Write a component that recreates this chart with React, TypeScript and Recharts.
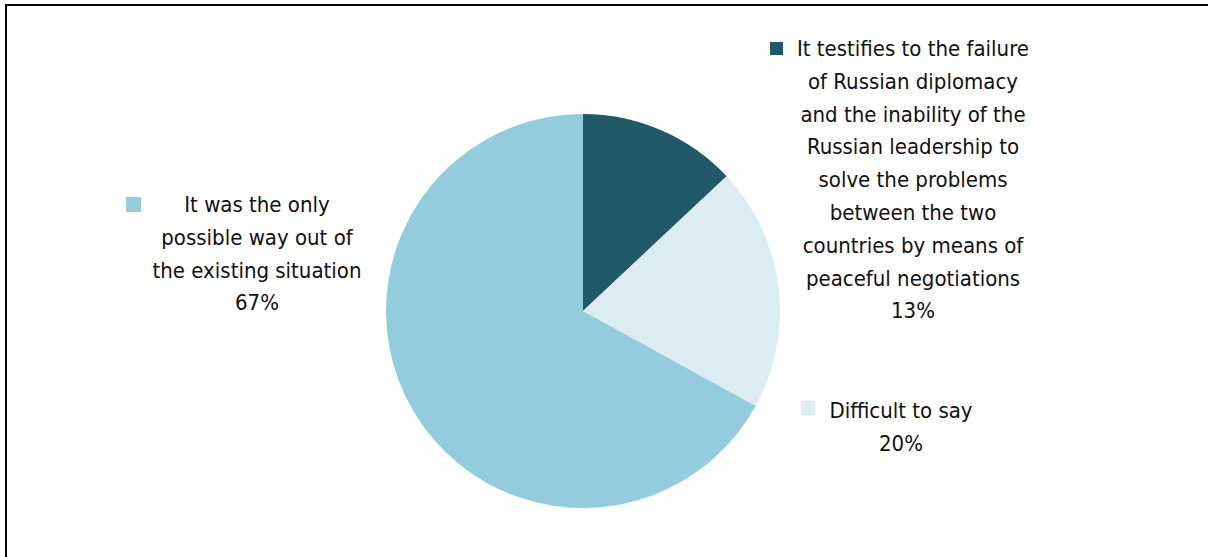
import { Cell, Pie, PieChart } from "recharts";

const categories = [
  "It testifies to the failure of Russian diplomacy and the inability of the Russian leadership to solve the problems between the two countries by means of peaceful negotiations",
  "Difficult to say",
  "It was the only possible way out of the existing situation",
];
const shares = [13, 20, 67];
const labelLines = [
  [
    "It testifies to the failure",
    "of Russian diplomacy",
    "and the inability of the",
    "Russian leadership to",
    "solve the problems",
    "between the two",
    "countries by means of",
    "peaceful negotiations",
  ],
  ["Difficult to say"],
  ["It was the only", "possible way out of", "the existing situation"],
];
const colors = ["#215968", "#dbedf3", "#93cddd"];

const chartData = categories.map((name, i) => ({ name, value: shares[i] }));

// label block placement relative to pie centre
const labelPos = [
  { tx: 330, ty: -255, sx: 187, sy: -269, size: 13 },
  { tx: 318, ty: 107, sx: 218, sy: 90, size: 14 },
  { tx: -326, ty: -99, sx: -457, sy: -114, size: 15 },
];
const LINE = 32.8;

const renderLabel = (props: any) => {
  const { cx, cy, index, value } = props;
  const p = labelPos[index];
  const lines = [...labelLines[index], `${value}%`];
  return (
    <g key={`lbl-${index}`}>
      <rect x={cx + p.sx} y={cy + p.sy} width={p.size} height={p.size} fill={colors[index]} />
      <text
        x={cx + p.tx}
        y={cy + p.ty}
        textAnchor="middle"
        fill="#111"
        fontSize={22}
        fontFamily="'Liberation Sans Narrow', 'DejaVu Sans Condensed', Lato, sans-serif"
      >
        {lines.map((l, i) => (
          <tspan key={i} x={cx + p.tx} dy={i === 0 ? 0 : LINE}>
            {l}
          </tspan>
        ))}
      </text>
    </g>
  );
};

export default function App() {
  return (
    <div
      style={{
        position: "fixed",
        left: 0,
        top: 0,
        width: 1208,
        height: 557,
        overflow: "hidden",
        background: "#fff",
      }}
    >
      <PieChart width={1208} height={557} margin={{ top: 0, right: 0, bottom: 0, left: 0 }}>
        <Pie
          data={chartData}
          dataKey="value"
          nameKey="name"
          cx={583}
          cy={311}
          outerRadius={197}
          startAngle={90}
          endAngle={-270}
          stroke="none"
          labelLine={false}
          label={renderLabel}
          isAnimationActive={false}
        >
          {chartData.map((d, i) => (
            <Cell key={d.name} fill={colors[i]} />
          ))}
        </Pie>
      </PieChart>
      <div
        style={{
          position: "absolute",
          left: 5,
          top: 4,
          width: 1400,
          height: 800,
          borderTop: "2px solid #000",
          borderLeft: "2px solid #000",
          pointerEvents: "none",
        }}
      />
    </div>
  );
}
